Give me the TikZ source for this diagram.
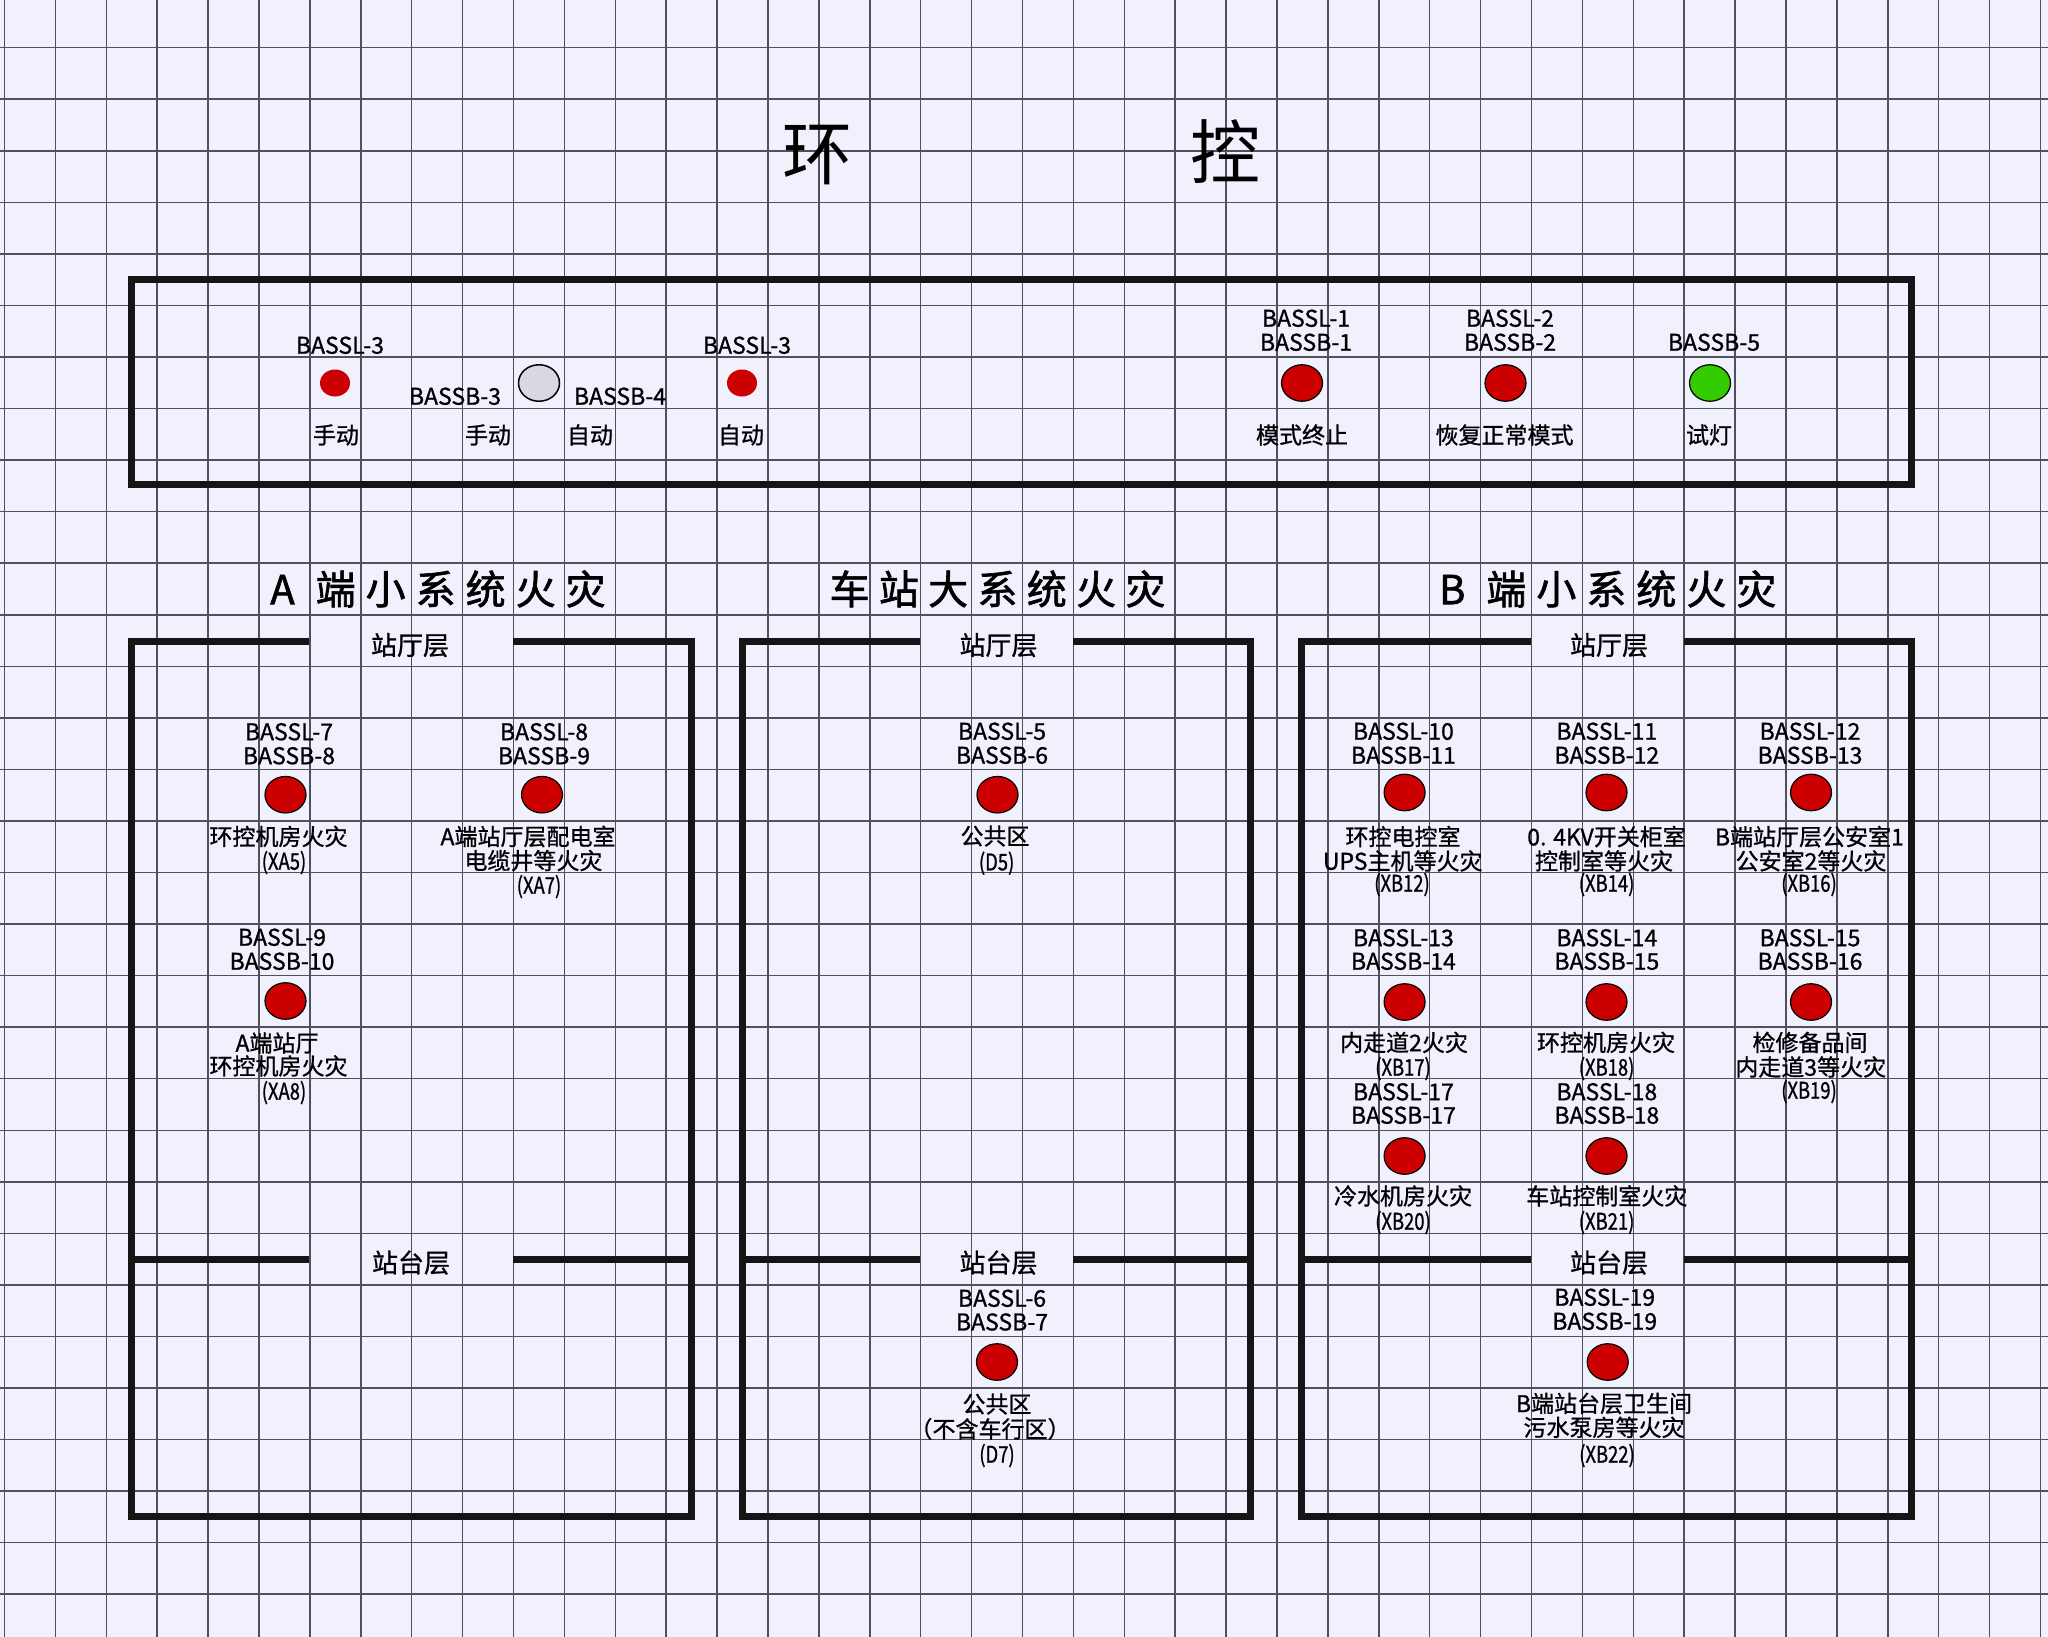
\documentclass[tikz,border=0pt]{standalone}
\usepackage{fontspec}
\setmainfont{Noto Sans CJK SC}
\newfontfamily\cjk[FakeBold=0.9]{Noto Sans CJK SC}
\newfontfamily\cjkh[FakeBold=1.6]{Noto Sans CJK SC}
\newfontfamily\cjkt{Noto Sans CJK SC}
\newfontfamily\cjkn[FakeStretch=0.8,FakeBold=0.9]{Noto Sans CJK SC}
\usetikzlibrary{shapes.geometric}

\definecolor{bgc}{RGB}{241,241,254}
\definecolor{gridc}{RGB}{80,80,92}
\definecolor{lampred}{RGB}{204,0,0}
\definecolor{lampgreen}{RGB}{51,204,0}
\definecolor{lampgray}{RGB}{216,216,224}
\definecolor{framec}{RGB}{22,20,20}

\newcommand\ls{\hspace{10pt}}

\tikzset{
  framepath/.style={line width=7pt, draw=framec, line join=miter},
  gridline/.style={draw=gridc, line width=1.5pt},
  txt/.style={inner sep=0pt, font=\cjk\fontsize{23}{24}\selectfont, text height=20.2pt, text depth=2.8pt},
  codetxt/.style={inner sep=0pt, font=\cjkn\fontsize{23}{24}\selectfont, text height=20.2pt, text depth=2.8pt},
  floortxt/.style={inner sep=0pt, font=\cjk\fontsize{26}{28}\selectfont, text height=22.9pt, text depth=3.1pt},
  headtxt/.style={inner sep=0pt, font=\cjkh\fontsize{40}{44}\selectfont, text height=35.2pt, text depth=4.8pt},
  titletxt/.style={inner sep=0pt, font=\cjkt\fontsize{70}{76}\selectfont, text height=61.6pt, text depth=8.4pt},
  lamp/.style={ellipse, draw=black, line width=1.2pt, fill=lampred, minimum width=41pt, minimum height=36.5pt, inner sep=0pt},
  lampg/.style={lamp, fill=lampgreen},
  switchlamp/.style={lamp, fill=lampgray, line width=1.5pt},
  dotsm/.style={ellipse, fill=lampred, minimum width=30pt, minimum height=27pt, inner sep=0pt},
}

\begin{document}
\begin{tikzpicture}[x=1pt,y=-1pt]
\useasboundingbox (0,0) rectangle (2048,1637);
\fill[bgc] (0,0) rectangle (2048,1637);

% grid
\foreach \i in {0,...,40} \draw[gridline] (4.5+50.9*\i,0) -- (4.5+50.9*\i,1637);
\foreach \j in {0,...,30} \draw[gridline] (0,47.7+51.55*\j) -- (2048,47.7+51.55*\j);

% title
\node[titletxt] (title1) at (817,153) {环};
\node[titletxt] (title2) at (1225,152) {控};

% top panel
\draw[framepath] (131.5,280) rectangle (1911,484);
\node[txt] (t-l3a) at (340,345) {BASSL-3};
\node[dotsm] (t-d1) at (335,383) {};
\node[txt] (t-m1) at (336,435) {手动};
\node[txt] (t-b3) at (455,396) {BASSB-3};
\node[switchlamp] (t-sw) at (539,383) {};
\node[txt] (t-m2) at (488,435) {手动};
\node[txt] (t-b4) at (620,396) {BASSB-4};
\node[txt] (t-a1) at (590,435) {自动};
\node[txt] (t-l3b) at (747,345) {BASSL-3};
\node[dotsm] (t-d2) at (742,383) {};
\node[txt] (t-a2) at (741,435) {自动};
\node[txt] (t-l1) at (1306,318) {BASSL-1};
\node[txt] (t-b1) at (1306,342) {BASSB-1};
\node[lamp] (t-r1) at (1302,383) {};
\node[txt] (t-x1) at (1302,435) {模式终止};
\node[txt] (t-l2) at (1510,318) {BASSL-2};
\node[txt] (t-b2) at (1510,342) {BASSB-2};
\node[lamp] (t-r2) at (1505.5,383) {};
\node[txt] (t-x2) at (1504.5,435) {恢复正常模式};
\node[txt] (t-b5) at (1714,342) {BASSB-5};
\node[lampg] (t-g) at (1710,383) {};
\node[txt] (t-x3) at (1709,435) {试灯};

% section headings
\node[headtxt] (hA) at (438,589) {A\hspace{21pt}端\ls 小\ls 系\ls 统\ls 火\ls 灾};
\node[headtxt] (hM) at (997.5,589) {车\hspace{9.3pt}站\hspace{9.3pt}大\hspace{9.3pt}系\hspace{9.3pt}统\hspace{9.3pt}火\hspace{9.3pt}灾};
\node[headtxt] (hB) at (1607.7,589) {B\hspace{21pt}端\ls 小\ls 系\ls 统\ls 火\ls 灾};

% panel A frame
\draw[framepath] (309,641) -- (131,641) -- (131,1516) -- (691,1516) -- (691,641) -- (513,641);
\draw[framepath] (131,1259) -- (309,1259);
\draw[framepath] (513,1259) -- (691,1259);
% panel M frame
\draw[framepath] (920,641) -- (742,641) -- (742,1516) -- (1250,1516) -- (1250,641) -- (1073,641);
\draw[framepath] (742,1259) -- (920,1259);
\draw[framepath] (1073,1259) -- (1250,1259);
% panel B frame
\draw[framepath] (1531,641) -- (1301.5,641) -- (1301.5,1516) -- (1911.5,1516) -- (1911.5,641) -- (1684,641);
\draw[framepath] (1301.5,1259) -- (1531,1259);
\draw[framepath] (1684,1259) -- (1911.5,1259);

% panel A
\node[floortxt] (A-hall) at (410,645) {站厅层};
\node[txt] (A1-l) at (289,731.5) {BASSL-7};
\node[txt] (A1-b) at (289,755.5) {BASSB-8};
\node[lamp] (A1-c) at (285.5,794.7) {};
\node[txt] (A1-t1) at (278.5,836.5) {环控机房火灾};
\node[codetxt] (A1-t2) at (284,861) {(XA5)};
\node[txt] (A2-l) at (544,731.5) {BASSL-8};
\node[txt] (A2-b) at (544,755.5) {BASSB-9};
\node[lamp] (A2-c) at (542,794.7) {};
\node[txt] (A2-t1) at (528,836.5) {A端站厅层配电室};
\node[txt] (A2-t2) at (533.4,860.6) {电缆井等火灾};
\node[codetxt] (A2-t3) at (539,885) {(XA7)};
\node[txt] (A3-l) at (282,937) {BASSL-9};
\node[txt] (A3-b) at (282,961) {BASSB-10};
\node[lamp] (A3-c) at (285.5,1001) {};
\node[txt] (A3-t1) at (277,1043) {A端站厅};
\node[txt] (A3-t2) at (278.5,1066) {环控机房火灾};
\node[codetxt] (A3-t3) at (284,1091) {(XA8)};
\node[floortxt] (A-plat) at (411,1262.5) {站台层};

% panel M
\node[floortxt] (M-hall) at (998.5,645) {站厅层};
\node[txt] (M1-l) at (1002,731) {BASSL-5};
\node[txt] (M1-b) at (1002,755) {BASSB-6};
\node[lamp] (M1-c) at (997.5,794.7) {};
\node[txt] (M1-t1) at (995,836) {公共区};
\node[codetxt] (M1-t2) at (996.6,861.7) {(D5)};
\node[floortxt] (M-plat) at (998.5,1262.5) {站台层};
\node[txt] (M2-l) at (1002,1298) {BASSL-6};
\node[txt] (M2-b) at (1002,1321.7) {BASSB-7};
\node[lamp] (M2-c) at (997,1362) {};
\node[txt] (M2-t1) at (997,1404) {公共区};
\node[txt] (M2-t2) at (990,1429) {（不含车行区）};
\node[codetxt] (M2-t3) at (997,1454) {(D7)};

% panel B
\node[floortxt] (B-hall) at (1609,645) {站厅层};
% row 1
\node[txt] (B1-l) at (1403.4,731) {BASSL-10};
\node[txt] (B1-b) at (1403.4,755) {BASSB-11};
\node[lamp] (B1-c) at (1404.6,792.5) {};
\node[txt] (B1-t1) at (1403,836.7) {环控电控室};
\node[txt] (B1-t2) at (1402.7,861) {UPS主机等火灾};
\node[codetxt] (B1-t3) at (1402,883) {(XB12)};
\node[txt] (B2-l) at (1606.8,731) {BASSL-11};
\node[txt] (B2-b) at (1606.8,755) {BASSB-12};
\node[lamp] (B2-c) at (1606.5,792.5) {};
\node[txt] (B2-t1) at (1606.5,836.7) {0. 4KV开关柜室};
\node[txt] (B2-t2) at (1604,861) {控制室等火灾};
\node[codetxt] (B2-t3) at (1606.6,883) {(XB14)};
\node[txt] (B3-l) at (1810,731) {BASSL-12};
\node[txt] (B3-b) at (1810,755) {BASSB-13};
\node[lamp] (B3-c) at (1811,792.5) {};
\node[txt] (B3-t1) at (1809.4,836.7) {B端站厅层公安室1};
\node[txt] (B3-t2) at (1811,861) {公安室2等火灾};
\node[codetxt] (B3-t3) at (1809,883) {(XB16)};
% row 2
\node[txt] (B4-l) at (1403.4,937.5) {BASSL-13};
\node[txt] (B4-b) at (1403.4,961) {BASSB-14};
\node[lamp] (B4-c) at (1404.6,1002) {};
\node[txt] (B4-t1) at (1404,1042.5) {内走道2火灾};
\node[codetxt] (B4-t2) at (1403,1067) {(XB17)};
\node[txt] (B5-l) at (1606.8,937.5) {BASSL-14};
\node[txt] (B5-b) at (1606.8,961) {BASSB-15};
\node[lamp] (B5-c) at (1606.5,1002) {};
\node[txt] (B5-t1) at (1606,1042.5) {环控机房火灾};
\node[codetxt] (B5-t2) at (1606.6,1067) {(XB18)};
\node[txt] (B6-l) at (1810,937.5) {BASSL-15};
\node[txt] (B6-b) at (1810,961) {BASSB-16};
\node[lamp] (B6-c) at (1811,1002) {};
\node[txt] (B6-t1) at (1810,1042.5) {检修备品间};
\node[txt] (B6-t2) at (1810.7,1067) {内走道3等火灾};
\node[codetxt] (B6-t3) at (1809,1090) {(XB19)};
% row 3
\node[txt] (B7-l) at (1403.4,1091.5) {BASSL-17};
\node[txt] (B7-b) at (1403.4,1115) {BASSB-17};
\node[lamp] (B7-c) at (1404.6,1156) {};
\node[txt] (B7-t1) at (1403,1196) {冷水机房火灾};
\node[codetxt] (B7-t2) at (1403,1221) {(XB20)};
\node[txt] (B8-l) at (1606.8,1091.5) {BASSL-18};
\node[txt] (B8-b) at (1606.8,1115) {BASSB-18};
\node[lamp] (B8-c) at (1606.5,1156) {};
\node[txt] (B8-t1) at (1606.8,1196) {车站控制室火灾};
\node[codetxt] (B8-t2) at (1606.6,1221) {(XB21)};
% platform
\node[floortxt] (B-plat) at (1609,1262.5) {站台层};
\node[txt] (B9-l) at (1604.7,1297) {BASSL-19};
\node[txt] (B9-b) at (1604.7,1321) {BASSB-19};
\node[lamp] (B9-c) at (1607.7,1362) {};
\node[txt] (B9-t1) at (1604,1403.4) {B端站台层卫生间};
\node[txt] (B9-t2) at (1604,1427.4) {污水泵房等火灾};
\node[codetxt] (B9-t3) at (1607,1454) {(XB22)};
\end{tikzpicture}
\end{document}
